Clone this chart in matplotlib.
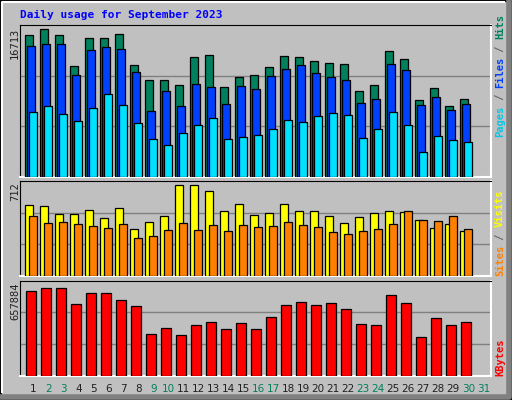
import matplotlib
matplotlib.use("Agg")
import matplotlib.pyplot as plt
from matplotlib.patches import Rectangle

# Daily values (days 1..30)
days = list(range(1, 32))
hits = [16032, 16713, 16032, 12515, 15692, 15692, 16145, 12629, 10927, 10927,
        10360, 13536, 13763, 10133, 11267, 11494, 12402, 13650, 13536, 13082,
        12856, 12742, 9679, 10360, 14217, 13309, 8658, 10020, 7978, 8772]
files = [14784, 15011, 15011, 11494, 14330, 14670, 14443, 11835, 7411, 9679,
         7978, 10473, 10133, 8205, 10247, 9906, 11381, 12175, 12629, 11721,
         11267, 10927, 8318, 8772, 12742, 12061, 8091, 8999, 7524, 8205]
pages = [7297, 7978, 7070, 6276, 7751, 9339, 8091, 6050, 4235, 3554,
         4915, 5823, 6617, 4235, 4462, 4688, 5369, 6390, 6163, 6844,
         7184, 6957, 4348, 5369, 7297, 5823, 2760, 4575, 4121, 3894]
visits = [557, 549, 487, 487, 518, 456, 534, 371, 426, 472,
          712, 712, 665, 511, 565, 480, 495, 565, 511, 511,
          472, 418, 464, 495, 511, 503, 441, 379, 410, 356]
sites = [472, 418, 426, 410, 395, 379, 410, 302, 317, 364,
         418, 364, 402, 356, 402, 387, 395, 426, 402, 387,
         348, 333, 356, 371, 410, 511, 441, 433, 472, 371]
kbytes = [636265, 657884, 657884, 535423, 621859, 621859, 571438, 521017, 312130, 355348,
          304927, 376957, 405769, 348145, 398566, 348145, 441784, 528220, 549829, 528220,
          542626, 499408, 391363, 384160, 607453, 542626, 290521, 434581, 384160, 405769]
weekend_days = [2, 3, 9, 10, 16, 17, 23, 24, 30, 31]

W, H = 512, 400
BG = "#C0C0C0"
MONO = "DejaVu Sans Mono"

fig = plt.figure(figsize=(W / 100, H / 100), dpi=100, facecolor=BG)

# bevelled outer frame
fig.patches.append(Rectangle((0, 0), 1, 1, transform=fig.transFigure, fill=False,
                             edgecolor="black", lw=2))
fig.add_artist(plt.Line2D([2 / W, 2 / W, 1 - 8 / W], [8 / H, 1 - 2 / H, 1 - 2 / H],
                          transform=fig.transFigure, color="white", lw=1.5))
fig.add_artist(plt.Line2D([2 / W, 1 - 3 / W, 1 - 3 / W], [3 / H, 3 / H, 1 - 2 / H],
                          transform=fig.transFigure, color="#808080", lw=4))


def panel(top, bottom):
    x0, x1 = 20.3, 490.7
    ax = fig.add_axes([x0 / W, 1 - bottom / H, (x1 - x0) / W, (bottom - top) / H])
    ax.set_facecolor(BG)
    ax.set_xlim(x0, x1)
    ax.set_xticks([])
    ax.set_yticks([])
    for s in ("left", "top"):
        ax.spines[s].set_color("black")
    for s in ("right", "bottom"):
        ax.spines[s].set_color("white")
        ax.spines[s].set_linewidth(1.5)
    return ax


def bars(ax, vals, offset, width, color):
    xs = [25.3 + 15 * i + offset for i in range(len(vals))]
    ax.bar(xs, vals, width=width, align="edge", color=color, edgecolor="black", lw=0.9, zorder=3)


def grid(ax, top):
    for g in (top / 3, 2 * top / 3):
        ax.axhline(g, color="#808080", lw=1, zorder=1)
    ax.set_ylim(0, top)


# top: hits / files / pages
ax1 = panel(25, 176.7)
top1 = 455 / 442 * max(hits)
grid(ax1, top1)
bars(ax1, hits, 0, 7.3, "#00805C")
bars(ax1, files, 2, 7.3, "#0040FF")
bars(ax1, pages, 4, 7.3, "#00E0FF")

# middle: visits / sites
ax2 = panel(180.7, 276.3)
top2 = 290 / 276 * max(visits)
grid(ax2, top2)
bars(ax2, visits, 0, 7.3, "#FFFF00")
bars(ax2, sites, 4, 7.3, "#FF8000")

# bottom: kbytes
ax3 = panel(280.7, 375.7)
top3 = 297 / 274 * max(kbytes)
grid(ax3, top3)
bars(ax3, kbytes, 1, 10, "#FF0000")

# title
fig.text(20 / W, 1 - 15 / H, "Daily usage for September 2023", color="#0000FF",
         family=MONO, fontsize=8, fontweight="bold", va="center")

# max labels on the left
for txt, y in [(str(max(hits)), 28), (str(max(visits)), 182), (str(max(kbytes)), 283)]:
    fig.text(15 / W, 1 - y / H, txt, rotation=90, family=MONO, fontsize=7.5,
             ha="center", va="top", color="#202020")


# right-side legends, read bottom to top
def legend(parts, y_bottom):
    y = y_bottom
    for txt, col in parts:
        t = fig.text(500 / W, 1 - y / H, txt, rotation=90, family=MONO, fontsize=7.5,
                     fontweight="bold", color=col, ha="center", va="bottom")
        y -= len(txt) * 6.1


legend([("Pages", "#00C8E8"), (" / ", "#606060"), ("Files", "#0040FF"),
        (" / ", "#606060"), ("Hits", "#00805C")], 137)
legend([("Sites", "#FF8000"), (" / ", "#606060"), ("Visits", "#FFFF00")], 276)
legend([("KBytes", "#FF0000")], 376)

# day labels
for d in days:
    col = "#00805C" if d in weekend_days else "#202020"
    fig.text((33.3 + 15 * (d - 1)) / W, 1 - 389 / H, str(d), color=col,
             fontsize=7.5, ha="center", va="center")

fig.savefig("out.png", dpi=100, facecolor=BG)
